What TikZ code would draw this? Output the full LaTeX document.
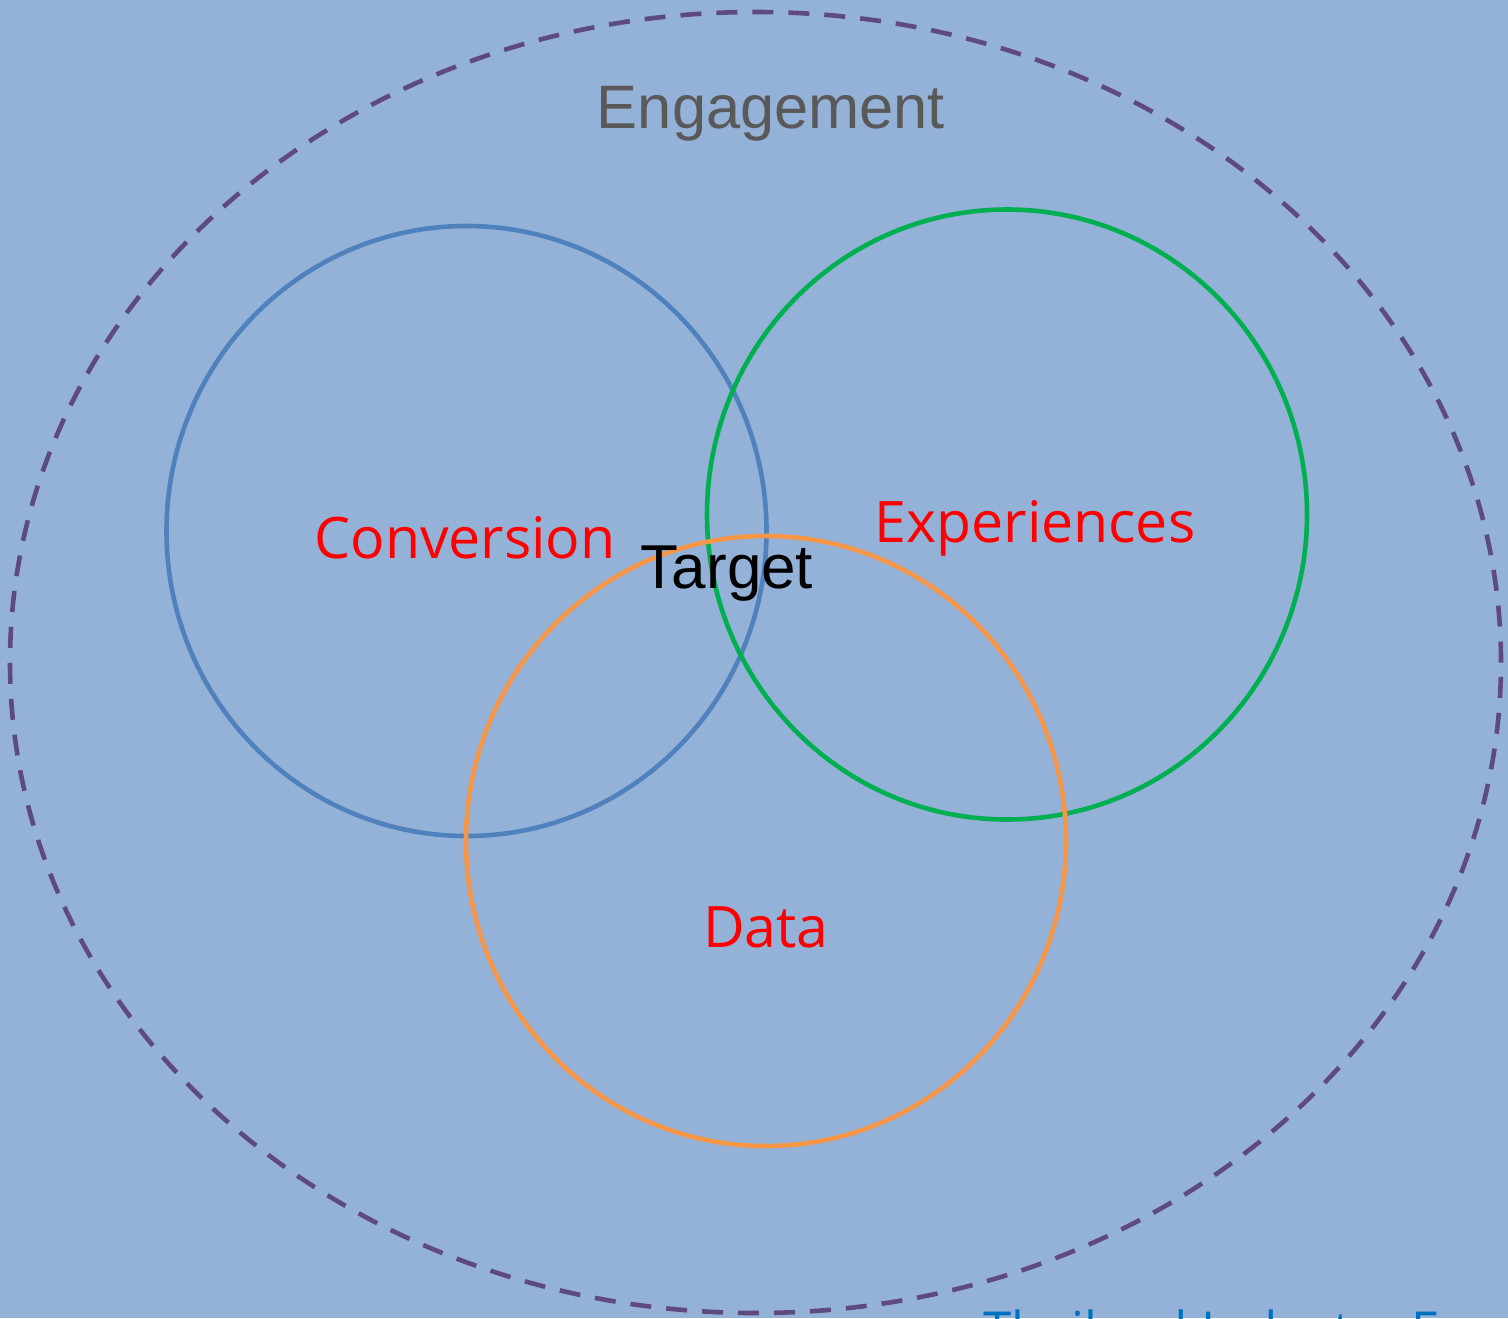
\documentclass[tikz,border=0pt]{standalone}
\usepackage{fontspec}
\setmainfont{Liberation Sans}
\newfontfamily\uifont{Open Sans}
\usetikzlibrary{shapes.geometric}
\definecolor{bgblue}{RGB}{148,178,215}
\definecolor{outerpurple}{RGB}{94,74,126}
\definecolor{cblue}{RGB}{79,129,189}
\definecolor{cgreen}{RGB}{0,176,80}
\definecolor{corange}{RGB}{247,150,70}
\definecolor{engray}{RGB}{89,89,89}
\definecolor{titleblue}{RGB}{0,112,192}
\tikzset{
  venn/.style={ellipse, minimum width=300pt, minimum height=305pt, inner sep=0pt, line width=2.3pt, draw},
  outerell/.style={ellipse, minimum width=745.5pt, minimum height=650.5pt, inner sep=0pt, line width=2.3pt, draw=outerpurple, dash pattern=on 10.5pt off 7.5pt},
  redlabel/.style={text=red, anchor=base, inner sep=0pt, font=\uifont\fontsize{28.6}{34}\selectfont},
}
\begin{document}
\begin{tikzpicture}[x=0.5pt, y=-0.5pt]
  \fill[bgblue] (0,0) rectangle (1508,1318);
  \useasboundingbox (0,0) rectangle (1508,1318);
  \node[outerell] (outer) at (755.5,662.5) {};
  \node[venn, draw=cblue] (conv) at (466.5,531) {};
  \node[venn, draw=cgreen] (exp) at (1007,514.5) {};
  \node[venn, draw=corange] (data) at (766,841) {};
  \node[anchor=base, inner sep=0pt, text=engray, font=\fontsize{30.7}{36}\selectfont] (eng) at (771,128) {Engagement};
  \node[redlabel] (convlab) at (465,558) {Conversion};
  \node[redlabel] (explab) at (1035,542) {Experiences};
  \node[redlabel] (datalab) at (766,947) {Data};
  \node[anchor=base, inner sep=0pt, text=black, font=\fontsize{31}{36}\selectfont] (target) at (727,588) {Target};
  \node[anchor=base west, inner sep=0pt, text=titleblue, font=\uifont\fontsize{25.5}{30}\selectfont] (title) at (983,1348) {Thailand Industry Expo};
\end{tikzpicture}
\end{document}
